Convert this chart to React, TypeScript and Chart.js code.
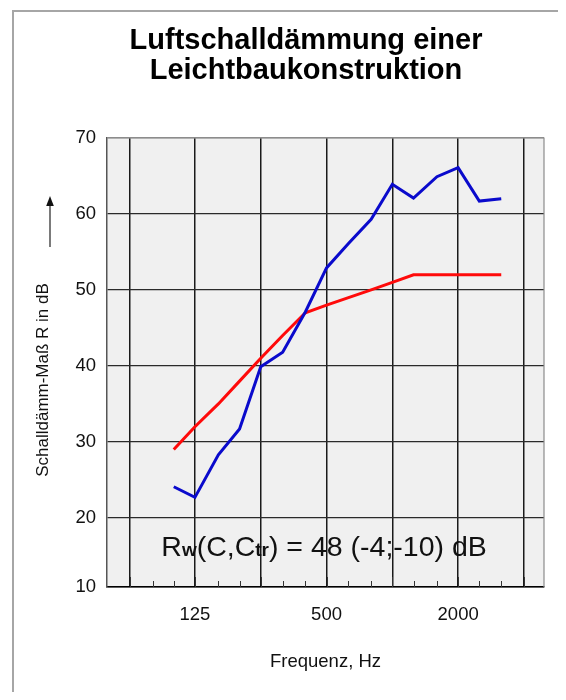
import React, { useEffect, useRef } from 'react';
import { Chart, registerables } from 'chart.js';

Chart.register(...registerables);

// ---- data ----
const frequencies = [100, 125, 160, 200, 250, 315, 400, 500, 630, 800, 1000, 1250, 1600, 2000, 2500, 3150];
const measured = [24.1, 22.7, 28.3, 31.7, 39.9, 41.8, 47.1, 52.9, 56.1, 59.3, 63.9, 62.1, 64.9, 66.1, 61.7, 62.0];
const reference = [29, 32, 35, 38, 41, 44, 47, 48, 49, 50, 51, 52, 52, 52, 52, 52];
const thirdOctaveTicks = [63, 80, 100, 125, 160, 200, 250, 315, 400, 500, 630, 800, 1000, 1250, 1600, 2000, 2500, 3150, 4000];
const octaveLines = [63, 125, 250, 500, 1000, 2000, 4000];
const xTickLabels = [125, 500, 2000];
const yTicks = [10, 20, 30, 40, 50, 60, 70];
const titleLines = ['Luftschalldämmung einer', 'Leichtbaukonstruktion'];
const yTitle = 'Schalldämm-Maß R in dB';
const xTitle = 'Frequenz, Hz';
const ratingParts = [
  { t: 'R', sub: false },
  { t: 'w', sub: true },
  { t: '(C,C', sub: false },
  { t: 'tr', sub: true },
  { t: ') = 48 (-4;-10) dB', sub: false },
];
const ratingAnchor = { freq: 487, value: 15 };

const FONT = '"Liberation Sans", Arial, Helvetica, sans-serif';

const decorPlugin = {
  id: 'decor',
  beforeDraw(chart: any) {
    const { ctx, chartArea: a } = chart;
    ctx.save();
    ctx.fillStyle = '#f0f0f0';
    ctx.fillRect(a.left, a.top, a.right - a.left, a.bottom - a.top);
    ctx.restore();
  },
  beforeDatasetsDraw(chart: any) {
    const { ctx, chartArea: a } = chart;
    const xs = chart.scales.x;
    ctx.save();
    // top / right frame
    ctx.strokeStyle = '#8c8c8c';
    ctx.lineWidth = 1.2;
    ctx.beginPath();
    ctx.moveTo(a.left, a.top);
    ctx.lineTo(a.right, a.top);
    ctx.lineTo(a.right, a.bottom);
    ctx.stroke();
    // inner minor ticks
    ctx.strokeStyle = '#333';
    ctx.lineWidth = 1;
    thirdOctaveTicks.forEach((f) => {
      const x = Math.round(xs.getPixelForValue(f)) + 0.5;
      const len = octaveLines.includes(f) ? 10 : 6;
      ctx.beginPath();
      ctx.moveTo(x, a.bottom);
      ctx.lineTo(x, a.bottom - len);
      ctx.stroke();
    });
    ctx.restore();
  },
  afterDraw(chart: any) {
    const { ctx } = chart;
    const xs = chart.scales.x;
    const ys = chart.scales.y;
    ctx.save();
    // rating text
    const mainFont = `28.5px ${FONT}`;
    const subFont = `bold 19px ${FONT}`;
    let total = 0;
    ratingParts.forEach((p) => {
      ctx.font = p.sub ? subFont : mainFont;
      total += ctx.measureText(p.t).width;
    });
    let x = xs.getPixelForValue(ratingAnchor.freq) - total / 2;
    const y = ys.getPixelForValue(ratingAnchor.value);
    ctx.fillStyle = '#111';
    ctx.textBaseline = 'alphabetic';
    ctx.textAlign = 'left';
    ratingParts.forEach((p) => {
      ctx.font = p.sub ? subFont : mainFont;
      ctx.fillText(p.t, x, y);
      x += ctx.measureText(p.t).width;
    });
    // y title
    ctx.translate(35, 372);
    ctx.rotate(-Math.PI / 2);
    ctx.font = `17px ${FONT}`;
    ctx.textAlign = 'center';
    ctx.textBaseline = 'middle';
    ctx.fillStyle = '#111';
    ctx.fillText(yTitle, 0, 0);
    ctx.restore();
    // arrow
    ctx.save();
    ctx.strokeStyle = '#333';
    ctx.fillStyle = '#111';
    ctx.lineWidth = 1.3;
    ctx.beginPath();
    ctx.moveTo(42, 239);
    ctx.lineTo(42, 196);
    ctx.stroke();
    ctx.beginPath();
    ctx.moveTo(42, 188);
    ctx.lineTo(38.2, 198);
    ctx.lineTo(45.8, 198);
    ctx.closePath();
    ctx.fill();
    ctx.restore();
  },
};

export default function App() {
  const ref = useRef<HTMLCanvasElement | null>(null);

  useEffect(() => {
    if (!ref.current) return;
    const chart = new Chart(ref.current, {
      type: 'line',
      data: {
        datasets: [
          {
            label: 'R',
            data: frequencies.map((f, i) => ({ x: f, y: measured[i] })),
            borderColor: '#0a0acc',
            borderWidth: 3,
            pointRadius: 0,
            tension: 0,
            fill: false,
          },
          {
            label: 'Bezugskurve',
            data: frequencies.map((f, i) => ({ x: f, y: reference[i] })),
            borderColor: '#ff0a0a',
            borderWidth: 3,
            pointRadius: 0,
            tension: 0,
            fill: false,
          },
        ],
      },
      options: {
        responsive: false,
        animation: false,
        events: [],
        layout: { padding: { left: 60, right: 14, top: 0, bottom: 0 } },
        plugins: {
          legend: { display: false },
          tooltip: { enabled: false },
          title: {
            display: true,
            text: titleLines,
            color: '#000',
            font: { family: FONT, size: 29, weight: 'bold', lineHeight: 30 / 29 },
            padding: { top: 18, bottom: 52 },
          },
        },
        scales: {
          x: {
            type: 'logarithmic',
            min: 49.5,
            max: 4942,
            afterBuildTicks: (scale: any) => {
              scale.ticks = thirdOctaveTicks.map((v) => ({ value: v }));
            },
            afterFit: (scale: any) => {
              scale.height = 105;
            },
            ticks: {
              autoSkip: false,
              maxRotation: 0,
              minRotation: 0,
              padding: 17,
              color: '#111',
              font: { family: FONT, size: 18.5 },
              callback: (v: any) => (xTickLabels.includes(Number(v)) ? String(v) : ''),
            },
            grid: {
              drawTicks: false,
              lineWidth: 1.5,
              color: (c: any) => (c.tick && octaveLines.includes(c.tick.value) ? '#1a1a1a' : 'rgba(0,0,0,0)'),
            },
            border: { display: true, color: '#000', width: 1.5 },
            title: {
              display: true,
              text: xTitle,
              color: '#111',
              font: { family: FONT, size: 18.5 },
              padding: { top: 0, bottom: 19 },
            },
          },
          y: {
            type: 'linear',
            min: 10.9,
            max: 70,
            afterBuildTicks: (scale: any) => {
              scale.ticks = yTicks.map((v) => ({ value: Math.max(v, scale.min) }));
            },
            afterFit: (scale: any) => {
              scale.width = 39;
            },
            ticks: {
              padding: 11,
              color: '#111',
              font: { family: FONT, size: 18.5 },
              callback: (_v: any, i: number) => String(yTicks[i]),
            },
            grid: {
              drawTicks: false,
              lineWidth: 1.2,
              color: (c: any) => (c.tick && c.tick.value >= 70 ? '#8c8c8c' : c.tick && c.tick.value < 11 ? '#000' : '#2a2a2a'),
            },
            border: { display: true, color: '#555', width: 1.5 },
            title: { display: false },
          },
        },
      },
      plugins: [decorPlugin],
    });
    return () => chart.destroy();
  }, []);

  return (
    <div style={{ position: 'relative', width: 550, height: 684 }}>
      <div
        style={{
          position: 'absolute',
          left: 4,
          top: 2,
          width: 552,
          height: 688,
          borderTop: '2px solid #a6a6a6',
          borderLeft: '2px solid #a6a6a6',
          boxSizing: 'border-box',
        }}
      />
      <canvas ref={ref} width={550} height={684} style={{ position: 'absolute', left: 0, top: 0 }} />
    </div>
  );
}
